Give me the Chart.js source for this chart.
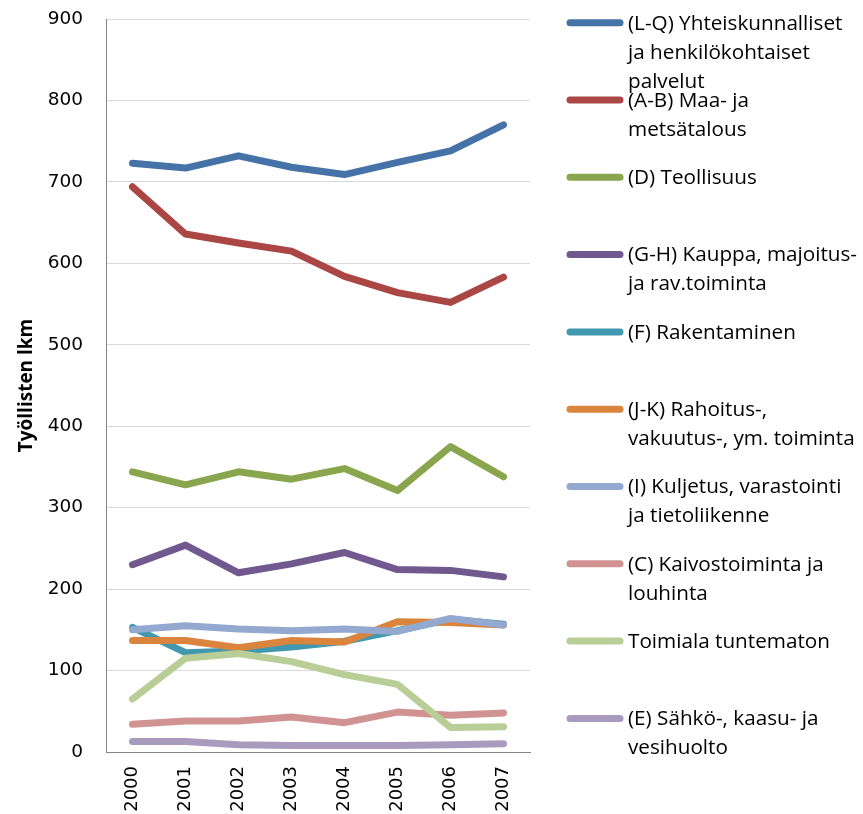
<!DOCTYPE html>
<html>
<head>
<meta charset="utf-8">
<script src="https://cdn.jsdelivr.net/npm/chart.js@4.4.1/dist/chart.umd.min.js"></script>
<style>
html,body{margin:0;padding:0;background:#fff;}
#wrap{position:relative;width:863px;height:814px;}
</style>
</head>
<body>
<div id="wrap"><canvas id="c" width="863" height="814"></canvas></div>
<script>
const years = ['2000','2001','2002','2003','2004','2005','2006','2007'];
const yTicks = [0,100,200,300,400,500,600,700,800,900];
const seriesNames = [
  ['(L-Q) Yhteiskunnalliset','ja henkilökohtaiset','palvelut'],
  ['(A-B) Maa- ja','metsätalous'],
  ['(D) Teollisuus'],
  ['(G-H) Kauppa, majoitus-','ja rav.toiminta'],
  ['(F) Rakentaminen'],
  ['(J-K) Rahoitus-,','vakuutus-, ym. toiminta'],
  ['(I) Kuljetus, varastointi','ja tietoliikenne'],
  ['(C) Kaivostoiminta ja','louhinta'],
  ['Toimiala tuntematon'],
  ['(E) Sähkö-, kaasu- ja','vesihuolto']
];
const seriesColors = ['#4572A7','#AA4643','#89A54E','#71588F','#4198AF','#DB843D','#93A9CF','#D19392','#B9CD96','#A99BBD'];
const lq = [723,717,732,718,709,724,738,770];
const ab = [694,636,625,615,584,564,552,583];
const d  = [344,328,344,335,348,321,375,338];
const gh = [230,254,220,231,245,224,223,215];
const f  = [153,122,124,129,136,149,163,157];
const jk = [137,137,128,137,135,160,159,156];
const iK = [150,155,151,149,151,148,164,156];
const c  = [34,38,38,43,36,49,45,48];
const tt = [65,115,121,111,95,83,30,31];
const e  = [13,13,9,8,8,8,9,10];
const seriesValues = [lq,ab,d,gh,f,jk,iK,c,tt,e];

const legendPlugin = {
  id: 'sideLegend',
  afterDraw(chart) {
    const ctx = chart.ctx;
    const x0 = 570, x1 = 620, tx = 628, top = 22.7, step = 77.3, lh = 29;
    ctx.save();
    ctx.font = '20.7px "Open Sans"';
    ctx.textBaseline = 'middle';
    ctx.textAlign = 'left';
    seriesNames.forEach((lines, k) => {
      const y = top + k * step;
      ctx.strokeStyle = seriesColors[k];
      ctx.lineWidth = 7;
      ctx.lineCap = 'round';
      ctx.beginPath(); ctx.moveTo(x0, y); ctx.lineTo(x1, y); ctx.stroke();
      ctx.fillStyle = '#000';
      lines.forEach((t, j) => ctx.fillText(t, tx, y + 1 + j * lh));
    });
    ctx.restore();
  }
};

new Chart(document.getElementById('c'), {
  type: 'line',
  data: {
    labels: years,
    datasets: seriesValues.map((v, k) => ({
      label: seriesNames[k].join(' '),
      data: v,
      borderColor: seriesColors[k],
      backgroundColor: seriesColors[k],
      borderWidth: 7,
      borderCapStyle: 'round',
      borderJoinStyle: 'round',
      pointRadius: 0,
      tension: 0,
      fill: false,
      order: seriesValues.length - k
    }))
  },
  options: {
    responsive: false,
    animation: false,
    events: [],
    layout: { padding: { left: 10, right: 333, top: 19, bottom: 0 } },
    plugins: { legend: { display: false }, tooltip: { enabled: false } },
    scales: {
      x: {
        offset: true,
        grid: { display: false, drawTicks: false },
        border: { display: true, color: '#868686', width: 1 },
        ticks: { minRotation: 90, maxRotation: 90, padding: 14, color: '#000', font: { family: 'DejaVu Sans', size: 18 } },
        afterFit(s) { s.height = 62; s.paddingLeft = 0; s.paddingRight = 0; }
      },
      y: {
        min: 0, max: 900,
        afterBuildTicks(s) { s.ticks = yTicks.map(v => ({ value: v })); },
        grid: { color: '#d9d9d9', lineWidth: 1, drawTicks: false },
        border: { display: true, color: '#868686', width: 1 },
        ticks: { padding: 23, color: '#000', font: { family: 'DejaVu Sans', size: 18.5 } },
        title: { display: true, text: 'Työllisten lkm', color: '#000', padding: { top: 5, bottom: 0 }, font: { family: 'Open Sans', size: 19, weight: 'bold' } },
        afterFit(s) { s.width = 96; s.paddingTop = 0; s.paddingBottom = 0; }
      }
    }
  },
  plugins: [legendPlugin]
});
</script>
</body>
</html>
